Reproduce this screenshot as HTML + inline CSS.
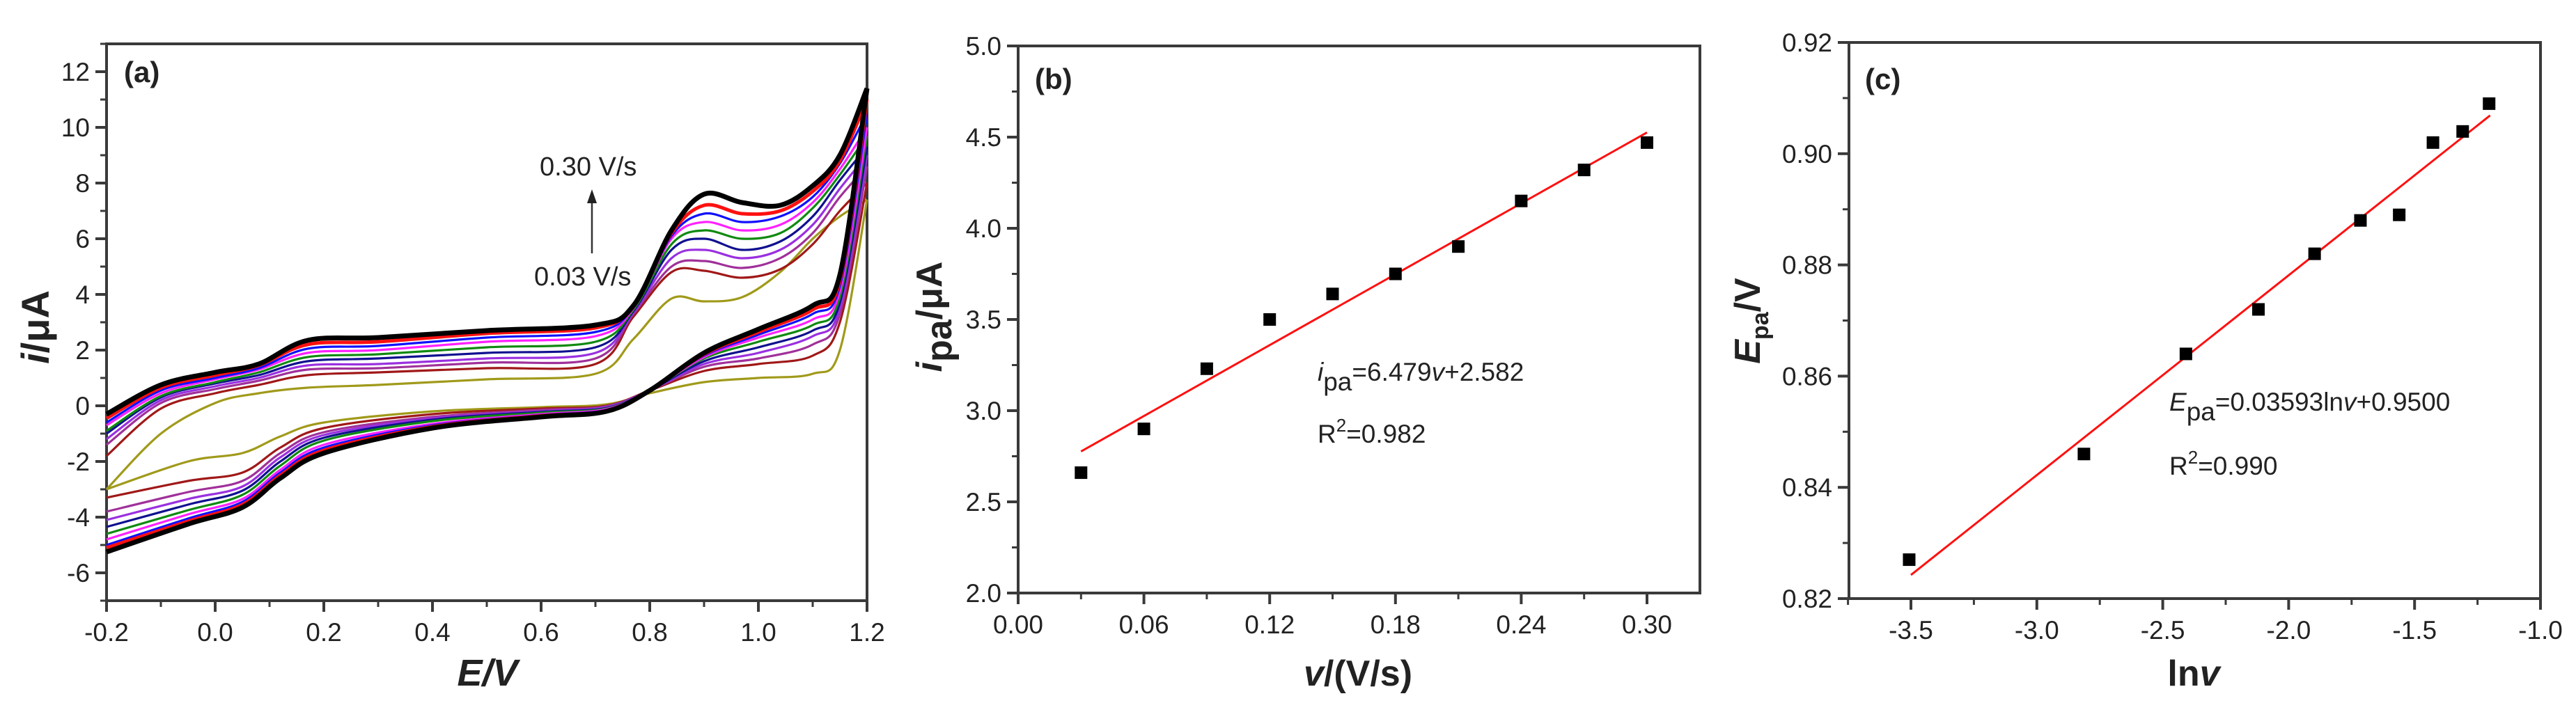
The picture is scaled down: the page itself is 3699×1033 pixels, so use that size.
<!DOCTYPE html>
<html><head><meta charset="utf-8">
<style>
html,body{margin:0;padding:0;background:#fff;}
svg{display:block;font-family:"Liberation Sans",Arial,sans-serif;}
</style></head>
<body>
<svg id="fig" width="3699" height="1033" viewBox="0 0 3699 1033" xmlns="http://www.w3.org/2000/svg">
</svg>
<script>
// ---------- Panel (a) data ----------
const cvRates = ["0.03","0.06","0.09","0.12","0.15","0.18","0.21","0.24","0.27","0.30"];
const cvColors = ["#a09a1a","#a01818","#a0309a","#9a30e0","#101090","#108a10","#ff20ff","#1010ff","#ff1010","#000000"];
const fwdE = [-0.2,-0.1,0.0,0.08,0.17,0.3,0.5,0.7,0.77,0.84,0.9,0.97,1.04,1.1,1.15,1.2];
const revE = [1.2,1.15,1.1,1.0,0.9,0.8,0.72,0.6,0.4,0.2,0.12,0.05,-0.05,-0.2];
const fwdI = [
 [-3.0,-1.0,0.1,0.45,0.65,0.75,0.95,1.15,2.4,3.85,3.75,3.9,4.8,6.0,6.8,7.4],
 [-1.8,-0.1,0.45,0.75,1.1,1.2,1.35,1.5,3.2,4.8,4.85,4.6,4.9,5.8,7.0,8.0],
 [-1.4,0.1,0.6,0.9,1.3,1.35,1.55,1.7,3.3,5.0,5.2,4.95,5.3,6.2,7.5,8.6],
 [-1.2,0.2,0.7,1.0,1.45,1.5,1.7,1.9,3.35,5.3,5.6,5.3,5.6,6.5,7.8,9.0],
 [-1.0,0.3,0.8,1.1,1.6,1.7,1.9,2.1,3.4,5.6,6.0,5.6,5.9,6.8,8.1,9.3],
 [-0.9,0.35,0.85,1.2,1.75,1.85,2.1,2.3,3.45,5.8,6.3,6.0,6.2,7.1,8.3,9.7],
 [-0.7,0.45,0.95,1.3,1.9,2.0,2.3,2.5,3.5,6.0,6.6,6.3,6.5,7.3,8.5,10.0],
 [-0.6,0.55,1.0,1.35,2.05,2.15,2.45,2.65,3.55,6.1,6.9,6.6,6.8,7.5,8.7,10.5],
 [-0.45,0.65,1.1,1.45,2.2,2.3,2.6,2.8,3.6,6.2,7.2,6.9,7.0,7.7,8.8,11.0],
 [-0.3,0.75,1.2,1.5,2.35,2.45,2.7,2.9,3.6,6.3,7.6,7.3,7.2,7.9,9.0,11.4]
];
const revI = [
 [7.4,2.0,1.15,1.0,0.85,0.45,0.05,-0.05,-0.2,-0.6,-1.1,-1.7,-2.0,-3.0],
 [8.0,3.0,1.8,1.5,1.25,0.55,0.0,-0.1,-0.3,-0.8,-1.5,-2.4,-2.7,-3.3],
 [8.6,3.3,2.2,1.7,1.4,0.55,-0.02,-0.15,-0.4,-0.95,-1.7,-2.7,-3.1,-3.8],
 [9.0,3.5,2.5,1.9,1.5,0.55,-0.05,-0.2,-0.45,-1.05,-1.85,-2.9,-3.35,-4.1],
 [9.3,3.7,2.7,2.1,1.6,0.55,-0.08,-0.22,-0.5,-1.15,-2.0,-3.05,-3.55,-4.35],
 [9.7,3.9,2.9,2.3,1.7,0.55,-0.1,-0.25,-0.55,-1.25,-2.15,-3.2,-3.75,-4.6],
 [10.0,4.1,3.1,2.45,1.75,0.55,-0.12,-0.3,-0.65,-1.4,-2.3,-3.35,-3.9,-4.8],
 [10.5,4.3,3.3,2.55,1.8,0.55,-0.15,-0.33,-0.7,-1.5,-2.4,-3.45,-4.05,-5.0],
 [11.0,4.5,3.45,2.65,1.85,0.55,-0.18,-0.36,-0.75,-1.6,-2.5,-3.55,-4.15,-5.1],
 [11.4,4.7,3.6,2.75,1.9,0.55,-0.2,-0.4,-0.8,-1.7,-2.6,-3.65,-4.25,-5.25]
];
const aXTicks = ["-0.2","0.0","0.2","0.4","0.6","0.8","1.0","1.2"];
const aYTicks = ["-6","-4","-2","0","2","4","6","8","10","12"];
// ---------- Panel (b) data ----------
const bV = [0.03,0.06,0.09,0.12,0.15,0.18,0.21,0.24,0.27,0.30];
const bI = [2.66,2.90,3.23,3.50,3.64,3.75,3.90,4.15,4.32,4.47];
const bFit = [6.479,2.582];
const bXTicks = ["0.00","0.06","0.12","0.18","0.24","0.30"];
const bYTicks = ["2.0","2.5","3.0","3.5","4.0","4.5","5.0"];
// ---------- Panel (c) data ----------
const cLnV = [-3.507,-2.813,-2.408,-2.120,-1.897,-1.715,-1.561,-1.427,-1.309,-1.204];
const cE = [0.827,0.846,0.864,0.872,0.882,0.888,0.889,0.902,0.904,0.909];
const cFit = [0.03593,0.9500];
const cXTicks = ["-3.5","-3.0","-2.5","-2.0","-1.5","-1.0"];
const cYTicks = ["0.82","0.84","0.86","0.88","0.90","0.92"];

const NS="http://www.w3.org/2000/svg";
const svg=document.getElementById('fig');
function mk(tag,attrs,parent){const e=document.createElementNS(NS,tag);for(const k in attrs)e.setAttribute(k,attrs[k]);(parent||svg).appendChild(e);return e;}
function scale(d0,d1,r0,r1){return v=>r0+(v-d0)*(r1-r0)/(d1-d0);}

function axes(g,L,R,T,B,xs,ys,xt,yt,xminor,yminor,name){
  const fr=mk('rect',{x:L,y:T,width:R-L,height:B-T,fill:'none',stroke:'#3a3a3a','stroke-width':4},g);
  
  
  xt.forEach(t=>{const x=xs(parseFloat(t));
    const l=mk('line',{x1:x,y1:B,x2:x,y2:B+16,stroke:'#3a3a3a','stroke-width':4},g);
    
    
    const tx=mk('text',{x:x,y:B+58,'font-size':37,'text-anchor':'middle',fill:'#222'},g);tx.textContent=t;
    
    });
  xminor.forEach(v=>{const x=xs(v);mk('line',{x1:x,y1:B,x2:x,y2:B+9,stroke:'#3a3a3a','stroke-width':3},g);});
  yt.forEach(t=>{const y=ys(parseFloat(t));
    const l=mk('line',{x1:L-16,y1:y,x2:L,y2:y,stroke:'#3a3a3a','stroke-width':4},g);
    
    
    const tx=mk('text',{x:L-24,y:y+13,'font-size':37,'text-anchor':'end',fill:'#222'},g);tx.textContent=t;
    
    });
  yminor.forEach(v=>{const y=ys(v);mk('line',{x1:L-9,y1:y,x2:L,y2:y,stroke:'#3a3a3a','stroke-width':3},g);});
}
function smooth(pts){let d='M'+pts[0][0]+','+pts[0][1];
  for(let i=0;i<pts.length-1;i++){const p0=pts[Math.max(0,i-1)],p1=pts[i],p2=pts[i+1],p3=pts[Math.min(pts.length-1,i+2)];
    const c1=[p1[0]+(p2[0]-p0[0])/6,p1[1]+(p2[1]-p0[1])/6],c2=[p2[0]-(p3[0]-p1[0])/6,p2[1]-(p3[1]-p1[1])/6];
    d+=' C'+c1[0].toFixed(1)+','+c1[1].toFixed(1)+' '+c2[0].toFixed(1)+','+c2[1].toFixed(1)+' '+p2[0].toFixed(1)+','+p2[1].toFixed(1);}
  return d;}

// ===== Panel a =====
(function(){
  const L=153,R=1245,T=63,B=863;
  const xs=scale(-0.2,1.2,L,R), ys=scale(-7,13,B,T);
  const g=mk('g',{});
  
  
  const xm=[],ym=[];for(let i=0;i<=14;i++)xm.push(-0.2+i*0.1);for(let i=-7;i<=13;i++)ym.push(i);
  axes(g,L,R,T,B,xs,ys,aXTicks,aYTicks,xm,ym,'panel-a');
  const cg=mk('g',{},g);
  cvRates.forEach((r,k)=>{
    const pts=[];fwdE.forEach((e,i)=>pts.push([xs(e),ys(fwdI[k][i])]));
    const pts2=[];revE.forEach((e,i)=>pts2.push([xs(e),ys(revI[k][i])]));
    const w=k===9?7:(k===8?5:3.2);
    const p1=mk('path',{d:smooth(pts),fill:'none',stroke:cvColors[k],'stroke-width':w,'stroke-linejoin':'round'},cg);
    
    
    const p2=mk('path',{d:smooth(pts2),fill:'none',stroke:cvColors[k],'stroke-width':w,'stroke-linejoin':'round'},cg);
    
    
  });
  let t=mk('text',{x:178,y:118,'font-size':42,'font-weight':'bold',fill:'#222'},g);t.textContent='(a)';
  
  
  t=mk('text',{x:775,y:252,'font-size':38,fill:'#222'},g);t.textContent='0.30 V/s';
  
  
  t=mk('text',{x:767,y:410,'font-size':38,fill:'#222'},g);t.textContent='0.03 V/s';
  
  
  const ar=mk('line',{x1:850,y1:364,x2:850,y2:285,stroke:'#333','stroke-width':2.5},g);
  
  
  mk('polygon',{points:'843,292 857,292 850,272',fill:'#222'},g);
  t=mk('text',{x:700,y:985,'font-size':54,'font-weight':'bold','font-style':'italic','text-anchor':'middle',fill:'#222'},g);t.textContent='E/V';
  
  
  t=mk('text',{x:0,y:0,'font-size':56,'font-weight':'bold','text-anchor':'middle',fill:'#222',transform:'translate(70,470) rotate(-90)'},g);
  t.innerHTML='<tspan font-style="italic">i</tspan>/μA';
  
  
})();

// ===== Panel b =====
(function(){
  const L=1462,R=2441,T=66,B=852;
  const xs=scale(0,0.30,L,2365), ys=scale(2,5,B,T);
  const g=mk('g',{});
  
  
  const xm=[],ym=[];for(let i=0;i<=10;i++)xm.push(i*0.03);for(let i=0;i<=12;i++)ym.push(2+i*0.25);
  axes(g,L,R,T,B,xs,ys,bXTicks,bYTicks,xm,ym,'panel-b');
  const fl=mk('line',{x1:xs(bV[0]),y1:ys(bFit[0]*bV[0]+bFit[1]),x2:xs(bV[bV.length-1]),y2:ys(bFit[0]*bV[bV.length-1]+bFit[1]),stroke:'#ff1010','stroke-width':3},g);
  
  
  bV.forEach((v,i)=>{const s=mk('rect',{x:xs(v)-9,y:ys(bI[i])-9,width:18,height:18,fill:'#000'},g);
    
    });
  let t=mk('text',{x:1486,y:128,'font-size':42,'font-weight':'bold',fill:'#222'},g);t.textContent='(b)';
  
  
  t=mk('text',{x:1892,y:547,'font-size':37,fill:'#222'},g);
  t.innerHTML='<tspan font-style="italic">i</tspan><tspan dy="14" font-size="37">pa</tspan><tspan dy="-14">=6.479</tspan><tspan font-style="italic">v</tspan><tspan>+2.582</tspan>';
  
  
  t=mk('text',{x:1892,y:636,'font-size':37,fill:'#222'},g);
  t.innerHTML='R<tspan dy="-16" font-size="26">2</tspan><tspan dy="16">=0.982</tspan>';
  
  
  t=mk('text',{x:1950,y:985,'font-size':52,'font-weight':'bold','text-anchor':'middle',fill:'#222'},g);
  t.innerHTML='<tspan font-style="italic">v</tspan>/(V/s)';
  
  
  t=mk('text',{x:0,y:0,'font-size':52,'font-weight':'bold','text-anchor':'middle',fill:'#222',transform:'translate(1352,455) rotate(-90)'},g);
  t.innerHTML='<tspan font-style="italic">i</tspan><tspan dy="14">pa</tspan><tspan dy="-14">/μA</tspan>';
  
  
})();

// ===== Panel c =====
(function(){
  const L=2655,R=3648,T=61,B=860;
  const xs=scale(-3.5,-1.0,2744,3648), ys=scale(0.82,0.92,B,T);
  const g=mk('g',{});
  
  
  const xm=[],ym=[];for(let i=0;i<=11;i++)xm.push(-3.75+i*0.25);for(let i=0;i<=10;i++)ym.push(0.82+i*0.01);
  axes(g,L,R,T,B,xs,ys,cXTicks,cYTicks,xm,ym,'panel-c');
  const x0=-3.5,x1=-1.2;
  const fl=mk('line',{x1:xs(x0),y1:ys(cFit[0]*x0+cFit[1]),x2:xs(x1),y2:ys(cFit[0]*x1+cFit[1]),stroke:'#ff1010','stroke-width':3},g);
  
  
  cLnV.forEach((v,i)=>{const s=mk('rect',{x:xs(v)-9,y:ys(cE[i])-9,width:18,height:18,fill:'#000'},g);
    
    });
  let t=mk('text',{x:2678,y:128,'font-size':42,'font-weight':'bold',fill:'#222'},g);t.textContent='(c)';
  
  
  t=mk('text',{x:3115,y:590,'font-size':37,fill:'#222'},g);
  t.innerHTML='<tspan font-style="italic">E</tspan><tspan dy="14">pa</tspan><tspan dy="-14">=0.03593ln</tspan><tspan font-style="italic">v</tspan><tspan>+0.9500</tspan>';
  
  
  t=mk('text',{x:3115,y:682,'font-size':37,fill:'#222'},g);
  t.innerHTML='R<tspan dy="-16" font-size="26">2</tspan><tspan dy="16">=0.990</tspan>';
  
  
  t=mk('text',{x:3150,y:985,'font-size':52,'font-weight':'bold','text-anchor':'middle',fill:'#222'},g);
  t.innerHTML='ln<tspan font-style="italic">v</tspan>';
  
  
  t=mk('text',{x:0,y:0,'font-size':52,'font-weight':'bold','text-anchor':'middle',fill:'#222',transform:'translate(2527,461) rotate(-90)'},g);
  t.innerHTML='<tspan font-style="italic">E</tspan><tspan dy="12" font-size="34">pa</tspan><tspan dy="-12">/V</tspan>';
  
  
})();
</script>
</body></html>
